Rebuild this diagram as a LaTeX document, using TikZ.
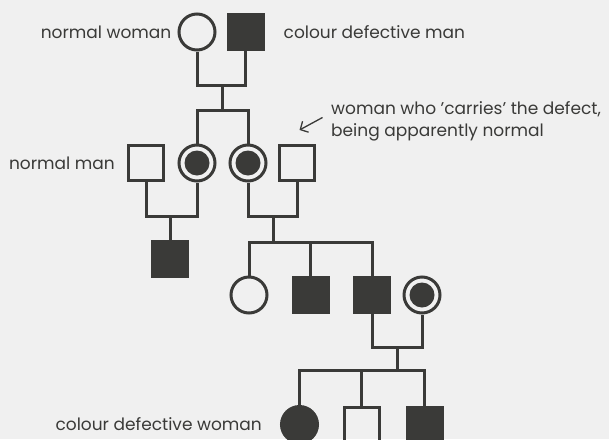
\documentclass[tikz,border=0pt]{standalone}
\usepackage{fontspec}
\setmainfont{Poppins}
\usepackage{tikz}
\usetikzlibrary{arrows.meta, positioning}
\definecolor{inkgray}{RGB}{58,58,56}
\definecolor{paper}{RGB}{240,240,240}

\begin{document}
\begin{tikzpicture}[
    x=1pt, y=-1pt,
    line/.style={draw=inkgray, line width=3pt},
    man/.style={rectangle, draw=inkgray, line width=3pt, minimum size=35pt, inner sep=0pt},
    woman/.style={circle, draw=inkgray, line width=3pt, minimum size=36pt, inner sep=0pt},
    affected/.style={fill=inkgray},
    carrier/.style={woman, path picture={\fill[inkgray] (path picture bounding box.center) circle (12.5pt);}},
    lbl/.style={text=inkgray, font=\fontsize{17}{22.4}\selectfont, inner sep=0pt}
]
\fill[paper] (0,0) rectangle (609,439);
\useasboundingbox (0,0) rectangle (609,439);

\node[woman] (nw) at (197,32) {};
\node[man, affected] (cm) at (245.5,32) {};
\node[lbl, left=6pt of nw] {normal woman};
\node[lbl, right=19pt of cm] {colour defective man};

\node[man] (nm) at (146,163) {};
\node[carrier] (c1) at (197,163) {};
\node[carrier] (c2) at (248,163) {};
\node[man] (hb) at (297,163) {};
\node[lbl, left=12pt of nm] {normal man};
\node[lbl, anchor=west, align=left] (note) at (331,121) {woman who 'carries' the defect,\\being apparently normal};
\coordinate (tail) at (322.5,117.5);
\coordinate (tip) at (299.5,130);
\draw[inkgray, line width=1.3pt, -{Straight Barb[length=6pt,width=12.5pt]}] (tail) -- (tip);

\node[man, affected] (son) at (170,258.5) {};

\node[woman] (d1) at (249,295) {};
\node[man, affected] (s1) at (310.5,295) {};
\node[man, affected] (s2) at (372,295) {};
\node[carrier] (wf) at (422,295) {};

\node[woman, affected] (g1) at (299.5,424.5) {};
\node[man] (g2) at (361.5,424.5) {};
\node[man, affected] (g3) at (424.5,424.5) {};
\node[lbl, left=18pt of g1] {colour defective woman};

\coordinate (ma) at (222,85);
\coordinate (sa) at (222,110);
\draw[line] (nw.south) |- (ma) -| (cm.south);
\draw[line] (ma) -- (sa);
\draw[line] (c1.north) |- (sa) -| (c2.north);

\coordinate (mb) at (170,216);
\draw[line] (nm.south) |- (mb) -| (c1.south);
\draw[line] (mb) -- (son.north);

\coordinate (mc) at (273,216);
\coordinate (sc) at (273,242);
\draw[line] (c2.south) |- (mc) -| (hb.south);
\draw[line] (mc) -- (sc);
\draw[line] (d1.north) |- (sc) -| (s2.north);
\draw[line] (s1.north) -- (s1.north |- sc);

\coordinate (md) at (397,347);
\coordinate (sd) at (397,370);
\draw[line] (s2.south) |- (md) -| (wf.south);
\draw[line] (md) -- (sd);
\draw[line] (g1.north) |- (sd) -| (g3.north);
\draw[line] (g2.north) -- (g2.north |- sd);
\end{tikzpicture}
\end{document}
